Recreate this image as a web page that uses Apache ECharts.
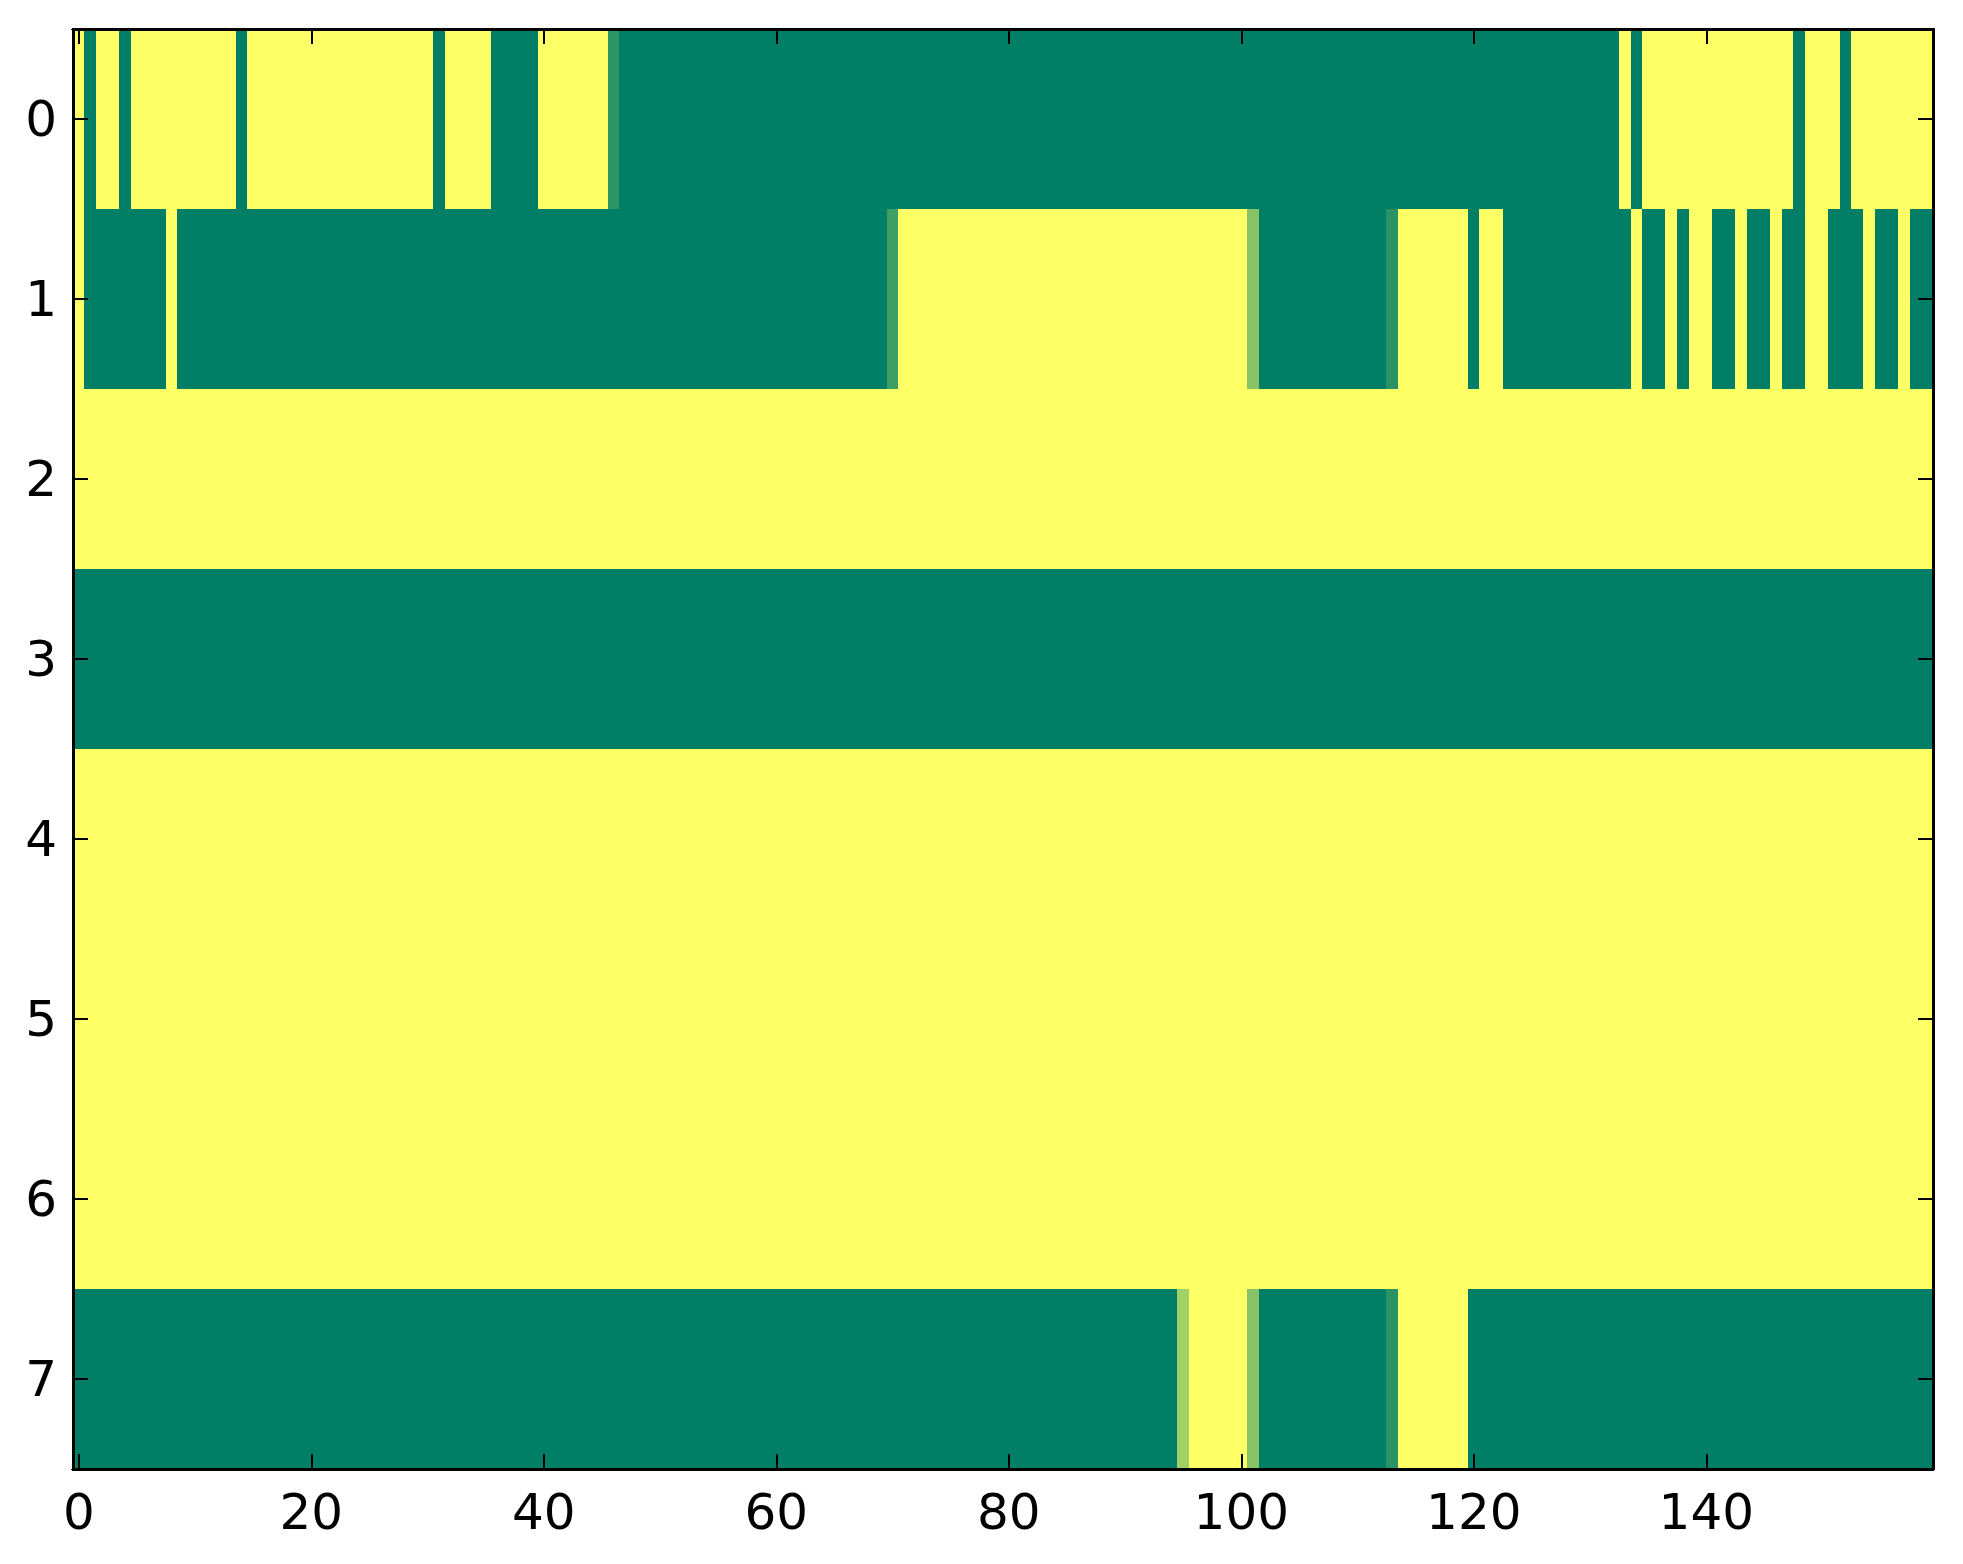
<!DOCTYPE html>
<html>
<head>
<meta charset="utf-8">
<script src="https://cdn.jsdelivr.net/npm/echarts@6/dist/echarts.min.js"></script>
<style>
html,body{margin:0;padding:0;background:#ffffff;}
#chart{width:1963px;height:1564px;}
#chart svg path, #chart svg rect{shape-rendering:crispEdges;}
</style>
</head>
<body>
<div id="chart"></div>
<script>
// Row labels (y axis, top to bottom)
const rowLabels = ['0', '1', '2', '3', '4', '5', '6', '7'];
// Number of columns (x axis categories 0..159)
const columnCount = 160;
// Tick labels shown on the x axis
const xTickLabels = ['0', '20', '40', '60', '80', '100', '120', '140'];

// Cell values per row, as runs of [value, number of consecutive columns]
const row0Runs = [[1,1],[0,1],[1,2],[0,1],[1,9],[0,1],[1,16],[0,1],[1,4],[0,4],[1,6],[0.18,1],[0,86],[1,1],[0,1],[1,13],[0,1],[1,3],[0,1],[1,7]];
const row1Runs = [[1,1],[0,7],[1,1],[0,61],[0.24,1],[1,30],[0.53,1],[0,11],[0.16,1],[1,6],[0,1],[1,2],[0,11],[1,1],[0,2],[1,1],[0,1],[1,2],[0,2],[1,1],[0,2],[1,1],[0,2],[1,2],[0,3],[1,1],[0,2],[1,1],[0,2]];
const row2Runs = [[1,160]];
const row3Runs = [[0,160]];
const row4Runs = [[1,160]];
const row5Runs = [[1,160]];
const row6Runs = [[1,160]];
const row7Runs = [[0,95],[0.63,1],[1,5],[0.53,1],[0,11],[0.16,1],[1,6],[0,40]];

const allRows = [row0Runs, row1Runs, row2Runs, row3Runs, row4Runs, row5Runs, row6Runs, row7Runs];

const xCategories = [];
for (let i = 0; i < columnCount; i++) xCategories.push(String(i));

const cells = [];
allRows.forEach(function (runs, r) {
  let c = 0;
  runs.forEach(function (run) {
    for (let k = 0; k < run[1]; k++) {
      cells.push([c, r, run[0]]);
      c++;
    }
  });
});

const showX = function (idx, val) { return xTickLabels.indexOf(String(val)) >= 0; };

const font = 'DejaVu Sans';
const lineStyle = { color: '#000', width: 3 };
const tickStyle = { color: '#000', width: 1.5 };

const chart = echarts.init(document.getElementById('chart'), null, { renderer: 'svg' });
chart.setOption({
  animation: false,
  backgroundColor: '#ffffff',
  grid: { left: 73, right: 30, top: 29, bottom: 95, containLabel: false },
  xAxis: [
    {
      type: 'category', data: xCategories, position: 'bottom', z: 10,
      boundaryGap: true,
      axisLine: { show: true, lineStyle: lineStyle },
      axisTick: { show: true, inside: true, length: 15, alignWithLabel: true, interval: showX, lineStyle: tickStyle },
      axisLabel: { show: true, interval: showX, margin: 18, fontFamily: font, fontSize: 50, color: '#000' },
      splitLine: { show: false }
    },
    {
      type: 'category', data: xCategories, position: 'top', z: 10,
      boundaryGap: true,
      axisLine: { show: true, lineStyle: lineStyle },
      axisTick: { show: true, inside: true, length: 15, alignWithLabel: true, interval: showX, lineStyle: tickStyle },
      axisLabel: { show: false },
      splitLine: { show: false }
    }
  ],
  yAxis: [
    {
      type: 'category', data: rowLabels, inverse: true, position: 'left', z: 10,
      boundaryGap: true,
      axisLine: { show: true, lineStyle: lineStyle },
      axisTick: { show: true, inside: true, length: 15, alignWithLabel: true, interval: 0, lineStyle: tickStyle },
      axisLabel: { show: true, interval: 0, margin: 16, fontFamily: font, fontSize: 50, color: '#000' },
      splitLine: { show: false }
    },
    {
      type: 'category', data: rowLabels, inverse: true, position: 'right', z: 10,
      boundaryGap: true,
      axisLine: { show: true, lineStyle: lineStyle },
      axisTick: { show: true, inside: true, length: 15, alignWithLabel: true, interval: 0, lineStyle: tickStyle },
      axisLabel: { show: false },
      splitLine: { show: false }
    }
  ],
  visualMap: {
    show: false, type: 'continuous', min: 0, max: 1, dimension: 2,
    seriesIndex: 0,
    inRange: { color: ['#007f66', '#ffff66'] }
  },
  series: [{
    type: 'heatmap',
    xAxisIndex: 0, yAxisIndex: 0,
    data: cells,
    progressive: 0,
    emphasis: { disabled: true },
    itemStyle: { borderWidth: 0 }
  }]
});
</script>
</body>
</html>
